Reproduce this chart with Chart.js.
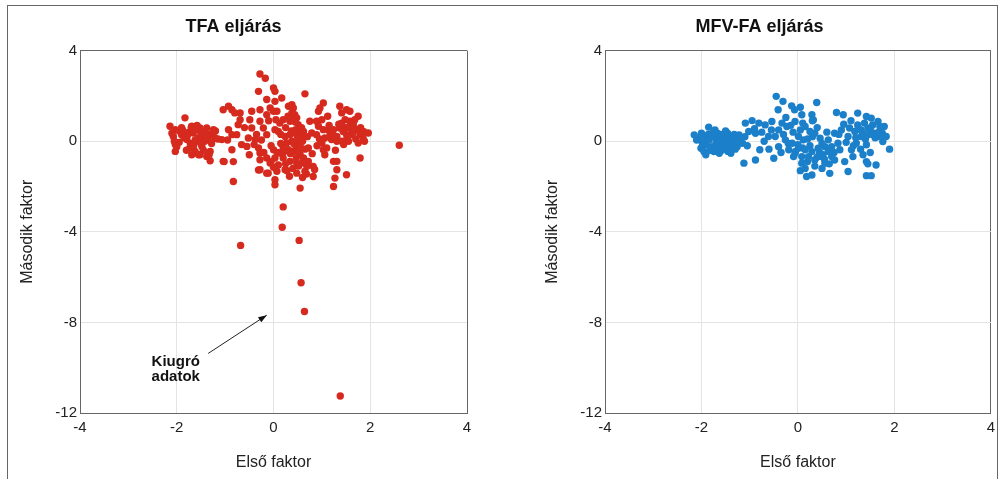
<!DOCTYPE html>
<html>
<head>
<meta charset="utf-8">
<script src="https://cdn.jsdelivr.net/npm/chart.js@4.4.1/dist/chart.umd.min.js"></script>
<style>
  body { margin: 0; background: #fff; }
  #frame { position: absolute; left: 7px; top: 5px; width: 989px; height: 480px;
           border: 1px solid #666; border-bottom: none; }
  .box { position: absolute; top: 0; height: 479px; }
</style>
</head>
<body>
<div id="frame"></div>
<div class="box" style="left:0;width:500px"><canvas id="tfa"></canvas></div>
<div class="box" style="left:500px;width:501px"><canvas id="mfv"></canvas></div>
<script>
// TFA eljárás (red), x = Első faktor, y = Második faktor
const tfaX = [
  -1.83,-2.14,-2.03,-2.07,-2.03,-2.03,-1.9,-1.79,-1.69,-1.66,-1.59,-1.73,-1.69,-1.52,-1.45,-1.38,-1.31,-1.24,-1.48,-1.52,
  -1.38,-1.31,-1.31,-1.21,-1.07,-2.1,-1.95,-1.85,-1.75,-1.72,-1.6,-1.55,-1.62,-1.5,-1.42,-1.35,-1.28,-1.25,-1.4,-1.8,
  -1.95,-1.88,-1.65,-1.55,-1.45,-1.33,-1.2,-1.15,-1.7,-1.58,-2.0,
  -1.9,-1.78,-1.62,-1.5,-1.38,-2.05,
  -1.04,-0.93,-0.86,-0.8,-0.69,-0.69,-0.73,-0.93,-0.86,-0.76,-0.86,-1.04,-0.83,-0.66,-0.55,-0.52,-0.45,-0.38,-0.31,-0.28,
  -0.45,-0.49,-0.28,-0.28,-0.31,-0.14,-0.07,-0.14,-0.21,-0.14,-0.28,-0.28,-0.14,-0.07,-0.11,-0.28,-0.17,-1.02,-0.83,-0.31,-0.14,
  -0.25,-0.4,-0.6,-0.95,
  0.0,0.03,0.03,0.17,0.65,0.31,0.38,0.41,0.38,0.44,0.48,0.41,0.34,0.07,0.0,0.13,0.2,0.51,0.55,0.48,
  0.34,0.24,0.1,0.03,0.27,0.38,0.44,0.51,0.58,0.2,0.31,0.41,0.51,0.55,0.13,0.0,0.03,0.2,0.34,0.48,
  0.62,0.72,0.69,0.82,0.82,0.65,0.48,0.24,0.07,0.03,0.03,0.55,0.75,0.79,0.72,0.62,
  0.45,0.5,0.42,0.35,0.55,0.6,0.47,0.52,0.4,0.3,0.45,0.58,0.65,0.7,0.25,0.15,0.08,-0.05,0.0,-0.05,
  -0.1,0.05,-0.2,-0.35,-0.5,0.1,0.25,0.33,0.6,0.68,0.85,0.8,0.9,
  0.15,0.22,0.37,0.52,0.6,0.28,
  1.03,0.96,0.93,0.89,0.93,0.89,1.03,1.13,1.24,1.17,1.03,1.06,1.24,1.31,1.31,1.27,1.24,1.51,1.79,
  1.37,1.41,1.51,1.58,1.75,1.68,1.58,1.48,1.41,1.37,1.44,1.51,1.62,1.58,1.65,1.72,1.79,1.86,1.96,1.75,
  1.51,1.31,1.31,1.41,1.2,1.06,1.0,1.1,1.0,1.15,1.25,1.6,1.7,1.85,1.55,1.45,1.88,
  1.2,1.35,1.5,1.65,1.8,1.28,0.95,1.12,
  2.6,0.2,0.18,-0.68,0.53,0.57,0.64,1.38
];
const tfaY = [
  1.03,0.66,0.51,0.21,-0.15,-0.45,0.29,0.07,0.66,0.36,0.0,-0.3,-0.6,0.58,0.21,0.58,0.29,0.51,-0.23,-0.6,
  -0.67,-0.45,-0.86,0.14,0.07,0.35,0.45,0.15,0.4,-0.1,0.5,0.15,-0.45,0.4,0.0,0.1,-0.1,0.35,0.42,-0.4,
  -0.05,0.5,-0.2,-0.6,-0.4,-0.6,0.45,0.1,0.62,0.7,-0.25,
  0.6,0.25,0.05,-0.1,0.25,0.0,
  1.39,1.54,1.39,1.25,1.25,0.95,0.73,0.51,0.29,0.29,-0.38,-0.89,-1.78,-0.15,-0.23,0.14,0.58,0.07,-0.3,-0.52,
  1.32,0.95,0.88,1.39,2.2,1.84,1.47,1.17,0.58,0.29,-0.82,-1.26,-0.74,-0.96,-1.41,2.97,2.78,-0.9,-0.9,-1.27,-1.41,
  0.05,-0.15,0.6,0.05,
  2.35,2.2,1.76,1.91,2.09,1.54,1.61,1.47,1.25,1.17,1.03,0.95,0.88,1.32,1.32,0.8,0.95,0.73,0.51,0.29,
  0.29,0.21,0.43,0.51,-0.08,0.0,-0.15,0.07,0.21,-0.3,-0.38,-0.45,-0.38,-0.6,-0.52,-0.38,-0.74,-0.74,-0.89,-0.96,
  -0.74,-0.89,-1.11,-1.11,-1.56,-1.33,-1.41,-1.26,-1.33,-1.7,-1.92,-2.07,0.88,0.36,-0.3,0.43,
  0.5,0.2,-0.1,-0.55,-0.2,0.0,-0.75,-1.1,-1.2,1.1,0.85,0.6,-0.35,0.2,0.6,-0.1,-0.5,-0.9,-1.15,-0.2,
  0.9,0.95,-0.5,0.3,-0.6,-1.05,-1.0,-1.55,-1.6,-1.45,-1.25,-0.55,-0.2,
  0.3,-0.45,0.45,-0.5,-0.95,-1.3,
  1.69,1.47,1.32,0.88,0.66,0.29,0.51,0.51,0.51,0.29,-0.38,-0.6,-0.89,-0.89,-1.26,-1.63,-2.0,-1.48,-0.74,
  1.54,1.25,1.39,1.32,1.1,0.95,0.88,0.95,0.8,0.58,0.43,0.29,0.29,0.66,0.73,0.51,0.29,0.43,0.36,-0.08,
  0.07,0.21,0.0,0.0,0.07,0.14,-0.08,-0.3,0.95,0.7,0.2,0.55,0.1,0.15,0.0,-0.15,0.0,
  0.35,0.75,0.6,0.4,0.6,-0.4,0.1,1.1,
  -0.18,-2.9,-3.8,-4.6,-4.38,-6.25,-7.52,-11.25
];

// MFV-FA eljárás (blue)
const mfvX = [
  -0.45,-0.31,-0.41,0.39,-0.13,-0.07,0.08,0.29,0.32,0.8,0.94,1.24,1.42,1.52,1.66,1.79,1.83,1.9,1.76,1.59,
  1.62,1.52,1.42,1.42,1.42,1.35,1.14,1.04,0.97,0.66,0.56,0.76,0.29,0.18,0.08,-0.09,-0.5,-0.47,-0.88,-1.12,
  -0.79,-1.09,-0.95,-0.81,-0.68,-1.02,-0.88,-0.61,-0.33,-0.23,-0.54,-0.06,0.15,0.25,0.01,0.11,0.35,0.46,0.56,0.42,
  0.29,0.15,0.01,-0.12,-0.26,-0.4,-0.19,-0.06,0.08,0.22,0.35,0.52,0.63,0.7,0.83,0.87,0.76,0.9,1.04,1.07,
  1.18,1.24,1.31,1.38,1.45,1.52,1.55,1.69,1.45,1.31,1.21,1.11,0.63,0.7,0.49,
  -2.15,-2.05,-1.98,-2.01,-1.91,-1.85,-1.84,-1.77,-1.7,-1.63,-1.63,-1.67,-1.56,-1.5,-1.46,-1.43,-1.39,-1.29,-1.26,-1.22,
  -1.15,-1.74,-1.53,-1.36,-1.91,-1.8,-1.6,-1.94,
  -2.1,-2.0,-1.9,-1.82,-1.75,-1.68,-1.6,-1.55,-1.48,-1.4,-1.32,-1.3,-1.2,-1.1,-1.05,-1.68,-1.45,-1.86,
  -1.95,-1.72,-1.5,-1.35,-1.25,-1.58,
  -0.3,-0.2,-0.1,0.0,0.05,0.2,0.3,0.4,0.5,0.6,0.1,-0.05,0.25,0.45,0.35,0.15,0.05,0.5,0.65,0.75,
  -0.55,-0.7,-0.6,-0.35,-0.4,-0.25,0.05,1.0,1.2,1.35,1.5,1.6,1.7,1.65,1.75,1.1,0.95,1.3,1.5,1.45,
  -0.9,-0.75,-0.15,0.1,0.3,0.4,0.55,0.2,0.85,1.15,1.4,1.55,1.78,1.25
];
const mfvY = [
  1.98,1.76,1.39,1.71,1.56,1.39,1.17,1.17,0.94,1.27,1.17,1.24,1.09,1.02,0.87,0.65,0.21,-0.35,-0.01,0.35,
  -1.05,-1.52,-1.52,-0.9,-0.16,-0.6,-0.68,-1.34,-0.9,-1.42,-0.97,-0.83,-1.49,-1.56,-0.97,-0.68,-0.75,0.21,-0.83,-0.97,
  -0.38,0.8,0.91,0.8,0.72,0.43,0.35,0.21,0.8,0.65,0.87,0.87,0.65,0.43,0.21,0.06,0.35,0.13,-0.24,-0.31,
  -0.46,-0.38,-0.31,-0.09,0.06,-0.24,-0.38,-0.53,-0.68,-0.68,-0.83,-0.6,-0.46,-0.24,-0.09,-0.38,0.35,0.5,0.21,0.58,
  0.43,0.72,0.5,0.8,0.58,0.35,0.72,0.43,0.28,0.21,-0.09,-0.38,0.06,-0.68,-0.68,
  0.28,0.13,-0.09,-0.31,-0.6,0.62,0.06,0.21,-0.09,-0.31,-0.53,0.35,0.21,-0.01,0.35,-0.24,-0.53,0.06,-0.24,0.28,
  -0.09,-0.46,-0.31,0.13,-0.16,-0.24,-0.01,0.21,
  0.05,0.35,0.05,-0.4,0.4,-0.25,0.3,-0.15,0.15,-0.05,0.3,-0.35,0.0,0.2,-0.2,0.08,-0.45,0.3,
  -0.45,0.5,0.45,-0.2,0.1,-0.4,
  0.3,-0.1,0.4,-0.15,0.5,0.1,0.9,0.6,-0.1,0.4,-0.3,-0.45,-0.2,-0.5,-1.1,-1.2,-1.3,-1.2,-1.0,-0.5,
  0.5,0.0,-0.35,-0.5,0.5,1.05,1.5,-0.05,0.15,0.35,0.55,0.15,0.65,0.2,0.35,0.9,0.75,-0.35,-0.5,-1.0,
  0.55,0.4,0.7,0.8,0.2,-0.7,-0.8,-0.9,0.3,-0.2,0.1,0.3,0.2,0.55
];

const xTicks = [-4, -2, 0, 2, 4];
const yTicks = [-12, -8, -4, 0, 4];

const FONT = '"Liberation Sans", Arial, sans-serif';

function points(xs, ys) {
  return xs.map((x, i) => ({ x: x, y: ys[i] }));
}

// callout for the outliers on the TFA panel
const calloutPlugin = {
  id: 'callout',
  afterDatasetsDraw(chart, args, opts) {
    if (!opts.show) return;
    const { ctx, scales: { x, y } } = chart;
    const x1 = x.getPixelForValue(-1.35), y1 = y.getPixelForValue(-9.37);
    const x2 = x.getPixelForValue(-0.14), y2 = y.getPixelForValue(-7.68);
    ctx.save();
    ctx.strokeStyle = '#222';
    ctx.fillStyle = '#111';
    ctx.lineWidth = 1;
    ctx.beginPath();
    ctx.moveTo(x1, y1);
    ctx.lineTo(x2, y2);
    ctx.stroke();
    const a = Math.atan2(y2 - y1, x2 - x1);
    ctx.beginPath();
    ctx.moveTo(x2, y2);
    ctx.lineTo(x2 - 9 * Math.cos(a - 0.35), y2 - 9 * Math.sin(a - 0.35));
    ctx.lineTo(x2 - 9 * Math.cos(a + 0.35), y2 - 9 * Math.sin(a + 0.35));
    ctx.closePath();
    ctx.fill();
    ctx.font = 'bold 15px ' + FONT;
    ctx.textBaseline = 'middle';
    ctx.textAlign = 'left';
    const tx = x.getPixelForValue(-2.52);
    ctx.fillText('Kiugró', tx, y.getPixelForValue(-9.74));
    ctx.fillText('adatok', tx, y.getPixelForValue(-10.42));
    ctx.restore();
  }
};

function edgeColor(min, max) {
  return ctx => (ctx.tick && (ctx.tick.value === min || ctx.tick.value === max)) ? '#666' : '#e4e4e4';
}

function makeChart(id, title, data, color, padLeft, padRight, callout) {
  return new Chart(document.getElementById(id), {
    type: 'scatter',
    data: {
      datasets: [{
        data: data,
        backgroundColor: color,
        borderWidth: 0,
        pointRadius: 3.7,
        pointHoverRadius: 3.7
      }]
    },
    options: {
      responsive: true,
      maintainAspectRatio: false,
      animation: false,
      layout: { padding: { left: padLeft, right: padRight, top: 16, bottom: 0 } },
      plugins: {
        legend: { display: false },
        tooltip: { enabled: false },
        title: {
          display: true,
          text: title,
          color: '#111',
          font: { family: FONT, size: 18, weight: 'bold' },
          padding: { top: 0, bottom: 13 }
        },
        callout: { show: callout }
      },
      scales: {
        x: {
          type: 'linear',
          min: -4, max: 4,
          afterBuildTicks: s => { s.ticks = xTicks.map(v => ({ value: v })); },
          afterFit: s => { s.height = 66; },
          grid: { color: edgeColor(-4, 4), drawTicks: false },
          border: { color: '#666' },
          ticks: { color: '#222', padding: 6, font: { family: FONT, size: 15 } },
          title: { display: true, text: 'Első faktor', color: '#222',
                   font: { family: FONT, size: 16 }, padding: { top: 0, bottom: 7 } }
        },
        y: {
          type: 'linear',
          min: -12, max: 4,
          afterBuildTicks: s => { s.ticks = yTicks.map(v => ({ value: v })); },
          afterFit: s => { s.width = 80; },
          grid: { color: edgeColor(-12, 4), drawTicks: false },
          border: { color: '#666' },
          ticks: { color: '#222', padding: 3, font: { family: FONT, size: 15 } },
          title: { display: true, text: 'Második faktor', color: '#222',
                   font: { family: FONT, size: 16 }, padding: { top: 18, bottom: 0 } }
        }
      }
    },
    plugins: [calloutPlugin]
  });
}

makeChart('tfa', 'TFA eljárás', points(tfaX, tfaY), '#d62a1e', 0, 33, true);
makeChart('mfv', 'MFV-FA eljárás', points(mfvX, mfvY), '#1b80c9', 25, 7, false);
</script>
</body>
</html>
